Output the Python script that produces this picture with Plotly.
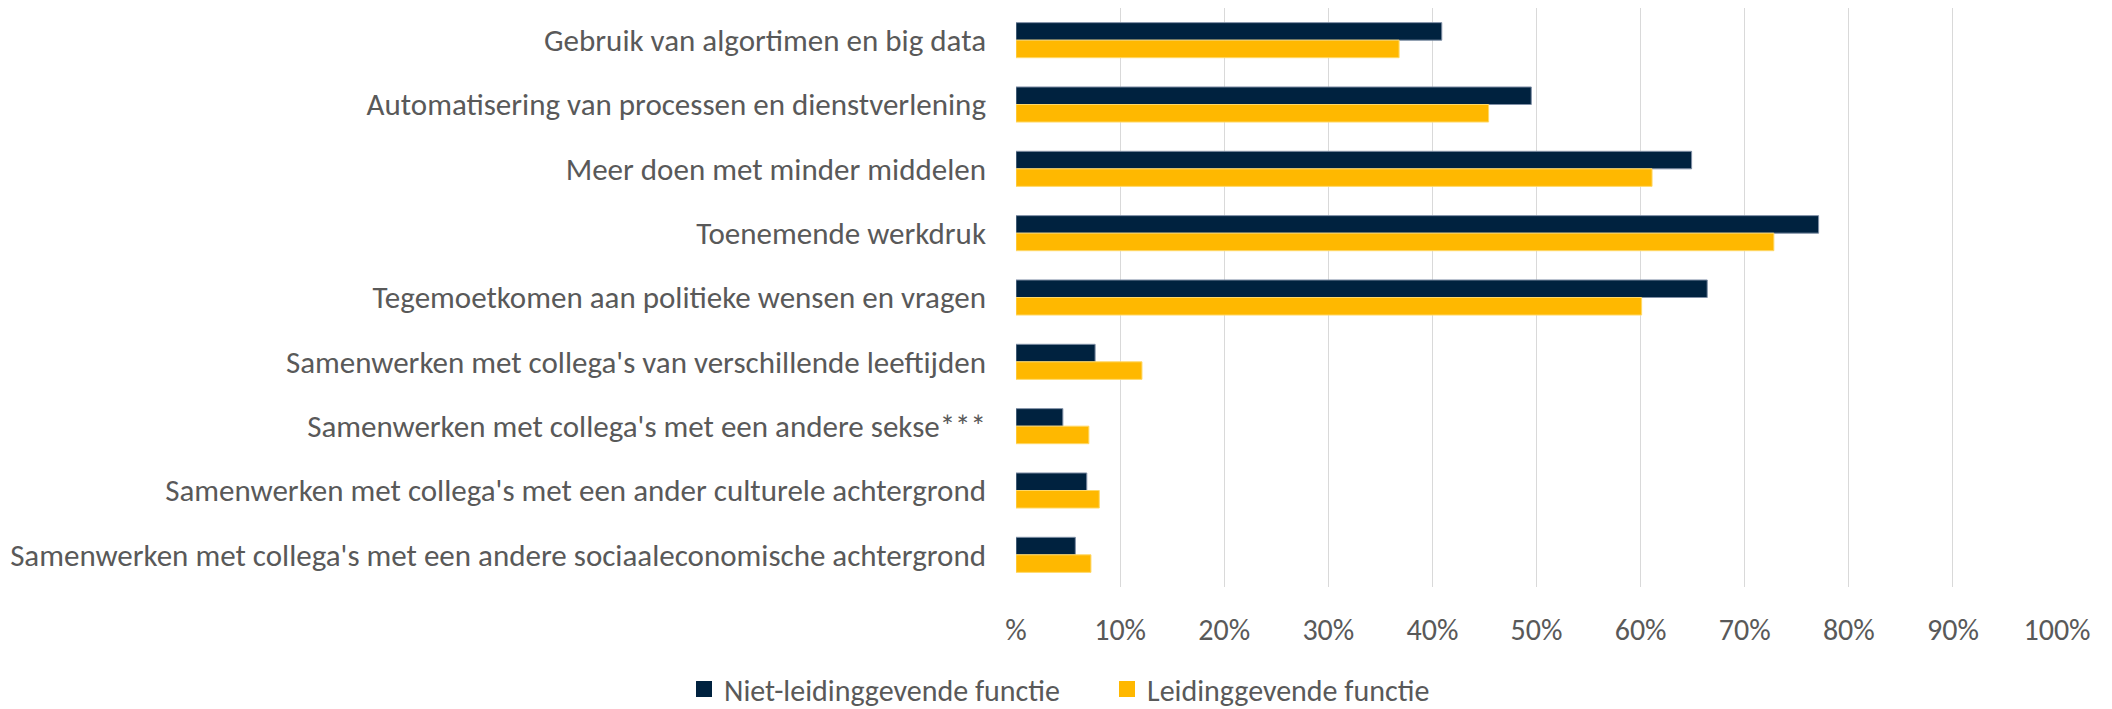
import plotly.graph_objects as go

categories = [
    "Gebruik van algortimen en big data",
    "Automatisering van processen en dienstverlening",
    "Meer doen met minder middelen",
    "Toenemende werkdruk",
    "Tegemoetkomen aan politieke wensen en vragen",
    "Samenwerken met collega's van verschillende leeftijden",
    "Samenwerken met collega's met een andere sekse***",
    "Samenwerken met collega's met een ander culturele achtergrond",
    "Samenwerken met collega's met een andere sociaaleconomische achtergrond",
]
niet_leidinggevend = [40.9, 49.5, 64.9, 77.1, 66.4, 7.6, 4.5, 6.8, 5.7]
leidinggevend = [36.8, 45.4, 61.1, 72.8, 60.1, 12.1, 7.0, 8.0, 7.2]
tick_values = [0, 10, 20, 30, 40, 50, 60, 70, 80, 90, 100]
tick_labels = ["%", "10%", "20%", "30%", "40%", "50%", "60%", "70%", "80%", "90%", "100%"]
series_names = ["Niet-leidinggevende functie", "Leidinggevende functie"]
series_colors = ["#00223F", "#FFB800"]

FONT = "Carlito, 'Liberation Sans Narrow', 'Open Sans', sans-serif"
TXT = "#595959"

fig = go.Figure()
fig.add_trace(go.Bar(y=categories, x=niet_leidinggevend, orientation="h",
                     name=series_names[0], marker_color=series_colors[0],
                     marker_line=dict(color="#7F8FA6", width=1),
                     legendgroup="a", showlegend=False))
fig.add_trace(go.Bar(y=categories, x=leidinggevend, orientation="h",
                     name=series_names[1], marker_color=series_colors[1],
                     marker_line=dict(color="#FFD866", width=1),
                     legendgroup="b", showlegend=False))
# legend entries with larger square swatches
for name, color, grp in zip(series_names, series_colors, ["a", "b"]):
    fig.add_trace(go.Scatter(x=[None], y=[None], mode="markers", name=name,
                             legendgroup=grp,
                             marker=dict(symbol="square", size=16, color=color)))

# the page body adds an 8px margin, so the figure is sized to fit inside it
fig.update_layout(
    width=2104, height=701,
    margin=dict(l=1008, r=55, t=0, b=122, autoexpand=False),
    paper_bgcolor="white", plot_bgcolor="white",
    barmode="group", bargap=0.455, bargroupgap=0,
    font=dict(family=FONT, size=31, color=TXT),
    showlegend=True,
    legend=dict(orientation="h", x=-0.3189, xanchor="left", y=-0.1762, yanchor="middle",
                font=dict(family=FONT, size=30, color=TXT), itemwidth=30,
                entrywidth=378, traceorder="normal"),
    xaxis=dict(range=[0, 100], tickvals=tick_values, ticktext=tick_labels,
               showgrid=True, gridcolor="#D9D9D9", gridwidth=1, zeroline=False,
               showline=False, ticks="", ticklabelstandoff=22,
               tickfont=dict(family=FONT, size=30, color=TXT)),
    yaxis=dict(autorange="reversed", showgrid=False, zeroline=False, showline=False,
               ticks="", ticklabelstandoff=29,
               tickfont=dict(family=FONT, size=31, color=TXT)),
)

fig.write_html("out.html")
